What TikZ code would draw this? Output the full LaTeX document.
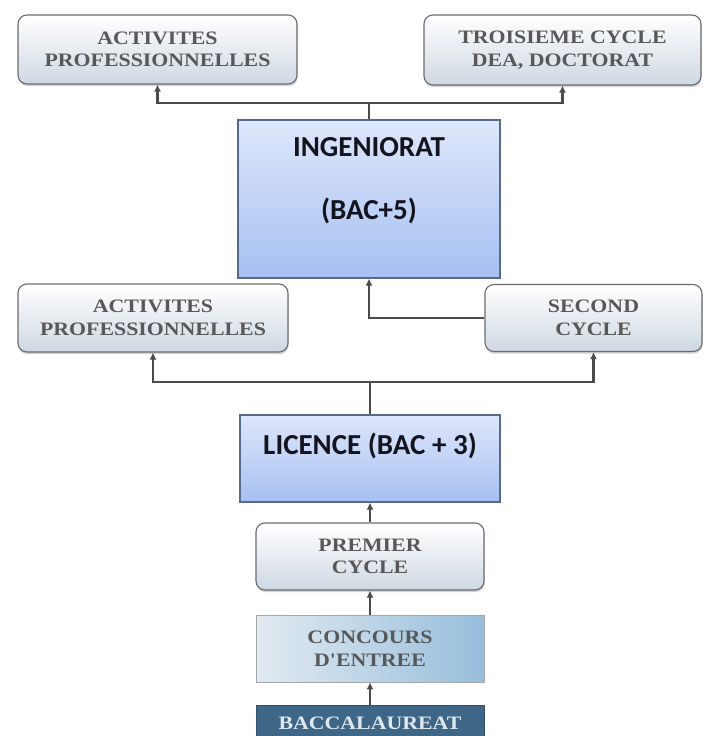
\documentclass[tikz,border=0pt]{standalone}
\usepackage{fontspec}
\usetikzlibrary{arrows.meta, positioning, shadows}
\newfontfamily\stagefont[FakeStretch=1.15]{Liberation Serif}
\newfontfamily\levelfont{Carlito}
\definecolor{lineGray}{RGB}{75,75,75}
\definecolor{stageEdge}{RGB}{105,108,112}
\definecolor{stageBottom}{RGB}{206,216,226}
\definecolor{stageText}{RGB}{88,88,88}
\definecolor{levelEdge}{RGB}{88,106,140}
\definecolor{levelTop}{RGB}{222,231,251}
\definecolor{levelBottom}{RGB}{166,192,242}
\definecolor{levelText}{RGB}{20,20,30}
\definecolor{examLeft}{RGB}{226,234,241}
\definecolor{examRight}{RGB}{150,190,220}
\definecolor{bacBlue}{RGB}{62,102,134}
\definecolor{bacText}{RGB}{222,230,238}

\begin{document}
\begin{tikzpicture}[
    x=1pt, y=-1pt,
    stage/.style={rectangle, rounded corners=9pt, draw=stageEdge, line width=1.1pt, top color=white, bottom color=stageBottom, text=stageText, font=\stagefont\bfseries\fontsize{19}{22.5}\selectfont, align=center, inner sep=0pt, drop shadow={shadow xshift=0.6pt, shadow yshift=-2.2pt, opacity=0.35}},
    level/.style={rectangle, draw=levelEdge, line width=1.2pt, top color=levelTop, bottom color=levelBottom, text=levelText, font=\levelfont\bfseries\fontsize{29}{35}\selectfont, align=center, inner sep=0pt},
    exam/.style={rectangle, draw=stageEdge!60, line width=0.8pt, left color=examLeft, right color=examRight, text=stageText, font=\stagefont\bfseries\fontsize{19}{22.5}\selectfont, align=center, inner sep=0pt},
    bacbox/.style={rectangle, draw=bacBlue!80!black, fill=bacBlue, text=bacText, font=\stagefont\bfseries\fontsize{19}{22.5}\selectfont, inner sep=0pt},
    link/.style={line width=2.2pt, draw=lineGray},
    arrow/.style={link, -{Latex[length=7pt, width=7pt]}}
]
\useasboundingbox (0,0) rectangle (703,736);
\clip (0,0) rectangle (703,736);
\fill[white] (0,0) rectangle (703,736);

% top row
\node[stage, minimum width=279pt, minimum height=69pt] (proTop) at (157.5,49.5) {ACTIVITES\\PROFESSIONNELLES};
\node[stage, minimum width=277pt, minimum height=70pt] (thirdCycle) at (562.5,50) {TROISIEME CYCLE\\DEA, DOCTORAT};

\node[level, minimum width=262pt, text height=99.5pt, text depth=58.5pt] (ing) at (369,199) {INGENIORAT\\[28pt](BAC+5)};

% middle row
\node[stage, minimum width=270pt, minimum height=68pt] (proMid) at (153,318) {ACTIVITES\\PROFESSIONNELLES};
\node[stage, minimum width=217pt, minimum height=67pt] (second) at (593.5,318) {SECOND\\CYCLE};

\node[level, minimum width=260pt, text height=39pt, text depth=48pt] (lic) at (370,458.5) {LICENCE (BAC + 3)};

% entry path
\node[stage, minimum width=228pt, minimum height=67pt] (premier) at (370,556.5) {PREMIER\\CYCLE};
\node[exam, minimum width=228pt, minimum height=67pt] (exam) at (370,648.5) {CONCOURS\\D'ENTREE};
\node[bacbox, minimum width=228pt, minimum height=36pt] (bac) at (370,723) {BACCALAUREAT};

\coordinate (topJoin) at (369,103);
\coordinate (midJoin) at (370,382);

\draw[link] (ing.north) -- (topJoin);
\draw[arrow] (topJoin) -| (proTop.south);
\draw[arrow] (topJoin) -| (thirdCycle.south);
\draw[arrow] (second.west) -| (ing.south);

\draw[link] (lic.north) -- (midJoin);
\draw[arrow] (midJoin) -| (proMid.south);
\draw[arrow] (midJoin) -| (second.south);

\draw[arrow] (premier.north) -- (lic.south);
\draw[arrow] (exam.north) -- (premier.south);
\draw[arrow] (bac.north) -- (exam.south);

\end{tikzpicture}
\end{document}
